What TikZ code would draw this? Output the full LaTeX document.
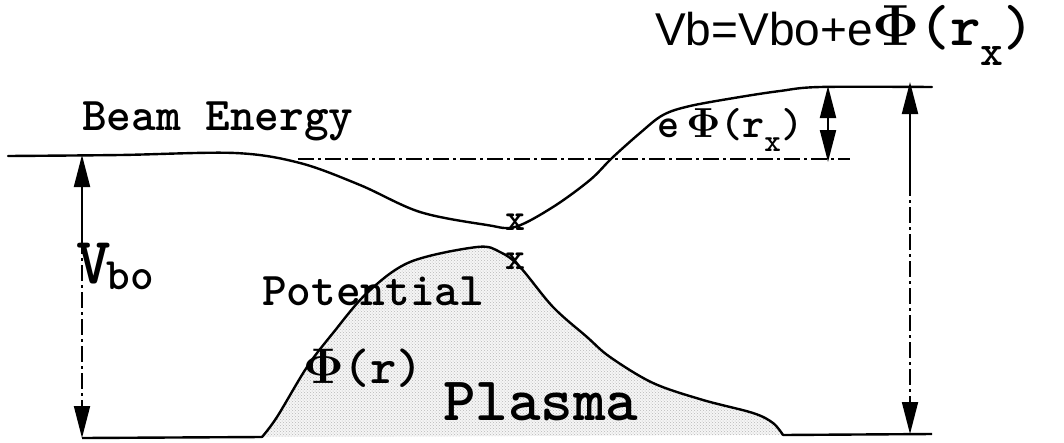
\RequirePackage{fix-cm}
\documentclass[tikz,border=0pt]{standalone}
\usepackage{fontspec}
\setsansfont{Liberation Sans}
\usetikzlibrary{arrows.meta, patterns}
\newcommand{\lowsub}[1]{\raisebox{-0.35em}{\scalebox{0.75}{#1}}}
\newcommand{\bphi}{{\boldmath$\Phi$}}
\tikzset{
	curve/.style   ={line width=2.4pt, line join=round, line cap=round},
	baseline/.style={line width=2.4pt},
	dashdot/.style ={line width=1.8pt, dash pattern=on 16pt off 4pt on 3pt off 4pt},
	dimtip/.style  ={-{Triangle[length=32pt, width=16pt]}},
	solidim/.style ={line width=2pt, dimtip},
	dotdim/.style  ={line width=1.8pt, dash pattern=on 16pt off 4pt on 3pt off 4pt, dimtip},
	plasma/.style  ={fill=gray!8, postaction={pattern=crosshatch dots, pattern color=gray!55}},
	% text styles
	lbl/.style     ={inner sep=0pt, anchor=base west, font=\ttfamily\bfseries\fontsize{47}{47}\selectfont},
	biglbl/.style  ={inner sep=0pt, anchor=base west, font=\ttfamily\bfseries\fontsize{62}{62}\selectfont},
	xmark/.style   ={inner sep=0pt, text height=10pt, text depth=0pt, font=\ttfamily\bfseries\fontsize{38}{38}\selectfont},
}
\begin{document}
\begin{tikzpicture}[x=1pt, y=-1pt]
	\useasboundingbox (0,0) rectangle (1064,442);
	% plasma potential
	\fill[plasma] plot[smooth, tension=0.55] coordinates {(262,437) (277,417) (307,367) (333,333) (367,293) (410,262) (477,247) (500,252) (520,267) (553,307) (587,337) (610,357) (653,383) (703,400) (753,413) (773,423) (783,435)} -- cycle;
	\draw[curve] plot[smooth, tension=0.55] coordinates {(262,437) (277,417) (307,367) (333,333) (367,293) (410,262) (477,247) (500,252) (520,267) (553,307) (587,337) (610,357) (653,383) (703,400) (753,413) (773,423) (783,435)};
	\coordinate (baseL) at (82,438);
	\coordinate (plasL) at (262,437);
	\coordinate (plasR) at (783,435);
	\coordinate (baseR) at (932,434);
	\draw[baseline] (baseL) -- (plasL);
	\draw[baseline] (plasR) -- (baseR);
	% beam energy
	\draw[curve] plot[smooth, tension=0.55] coordinates {(8,156) (120,155) (235,153) (300,163) (360,185) (420,212) (487,225) (515,227) (553,207) (590,180) (612,158) (640,133) (663,115) (690,106) (740,97) (780,91) (820,87) (932,87)};
	\coordinate (dashL) at (298,159);
	\coordinate (dashR) at (850,159);
	\draw[dashdot] (dashL) -- (dashR);
	% V_bo arrow
	\coordinate (vTop) at (82,155);
	\coordinate (vMid) at (82,238);
	\coordinate (vBot) at (82,438);
	\draw[solidim] (vMid) -- (vTop);
	\draw[dotdim] (vMid) -- (vBot);
	% V_b arrow
	\coordinate (bTop) at (910,82);
	\coordinate (bMid) at (910,180);
	\coordinate (bBot) at (910,434);
	\draw[solidim] (bMid) -- (bTop);
	\draw[dotdim] (bMid) -- (bBot);
	% e Phi arrow
	\coordinate (pTop) at (828,86);
	\coordinate (pMid) at (828,125);
	\coordinate (pBot) at (828,162);
	\draw[solidim] (pMid) -- (pTop);
	\draw[solidim] (pMid) -- (pBot);
	% labels
	\node[lbl] (beam) at (82,130) {Beam Energy};
	\node[lbl, font=\ttfamily\bfseries\fontsize{42}{42}\selectfont] (ephi) at (657,137) {e\,\bphi(r\lowsub{x})};
	\node[inner sep=0pt, anchor=base west, font=\fontsize{46}{46}\selectfont] (vb) at (655,45) {\sffamily Vb=Vbo+e\ttfamily\bfseries\fontsize{58}{58}\selectfont\bphi(r\lowsub{x})};
	\node[inner sep=0pt, anchor=base west, font=\ttfamily\bfseries\fontsize{66}{66}\selectfont] (vbo) at (76,283) {V\hspace{-4pt}\fontsize{45}{45}\selectfont\raisebox{-6pt}{bo}};
	\node[lbl] (pot) at (262,305) {Potential};
	\node[lbl, font=\ttfamily\bfseries\fontsize{50}{50}\selectfont] (phir) at (303,383) {\bphi(r)};
	\node[biglbl] (plas) at (443,420) {Plasma};
	\node[xmark] (xa) at (515,225) {x};
	\node[xmark] (xb) at (515,264) {x};
\end{tikzpicture}
\end{document}
